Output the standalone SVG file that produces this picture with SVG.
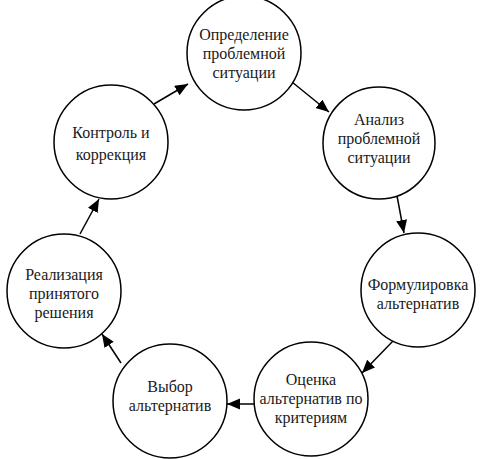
<svg xmlns="http://www.w3.org/2000/svg" width="485" height="459" viewBox="0 0 485 459">
<style>
.node circle{fill:#fff;stroke:#000;stroke-width:1.5}
.node text{font-family:'Liberation Serif','DejaVu Serif',serif;font-size:16px;fill:#1a1a1a;text-anchor:middle}
.conn line{stroke:#000;stroke-width:1.5;marker-end:url(#arr)}
</style>
<defs>
<marker id="arr" markerUnits="userSpaceOnUse" markerWidth="14" markerHeight="12" refX="13" refY="5.5" orient="auto">
<path d="M0,0 L13,5.5 L0,11 z" fill="#000"/>
</marker>
</defs>
<rect width="485" height="459" fill="#fff"/>
<g id="connectors" class="conn">
<line x1="154" y1="104" x2="188" y2="84"/>
<line x1="292" y1="82" x2="329" y2="112"/>
<line x1="397" y1="196" x2="404" y2="233"/>
<line x1="393" y1="341" x2="362" y2="373"/>
<line x1="254" y1="404" x2="227" y2="404"/>
<line x1="121" y1="363" x2="102" y2="334"/>
<line x1="80" y1="234" x2="99" y2="199"/>
</g>
<g id="n1" class="node"><circle cx="244" cy="53" r="57"/>
<text x="244" y="40">Определение</text><text x="244" y="59">проблемной</text><text x="244" y="78">ситуации</text></g>
<g id="n2" class="node"><circle cx="379" cy="143" r="56"/>
<text x="379" y="125">Анализ</text><text x="379" y="144">проблемной</text><text x="379" y="163">ситуации</text></g>
<g id="n3" class="node"><circle cx="418" cy="290" r="57"/>
<text x="418" y="290">Формулировка</text><text x="418" y="309">альтернатив</text></g>
<g id="n4" class="node"><circle cx="311" cy="399" r="57"/>
<text x="311" y="385">Оценка</text><text x="311" y="404">альтернатив по</text><text x="311" y="423">критериям</text></g>
<g id="n5" class="node"><circle cx="170" cy="401" r="57"/>
<text x="170" y="392">Выбор</text><text x="170" y="411">альтернатив</text></g>
<g id="n6" class="node"><circle cx="64" cy="291" r="57"/>
<text x="64" y="280">Реализация</text><text x="64" y="299">принятого</text><text x="64" y="318">решения</text></g>
<g id="n7" class="node"><circle cx="111" cy="142" r="57"/>
<text x="111" y="138">Контроль и</text><text x="111" y="160">коррекция</text></g>
</svg>
